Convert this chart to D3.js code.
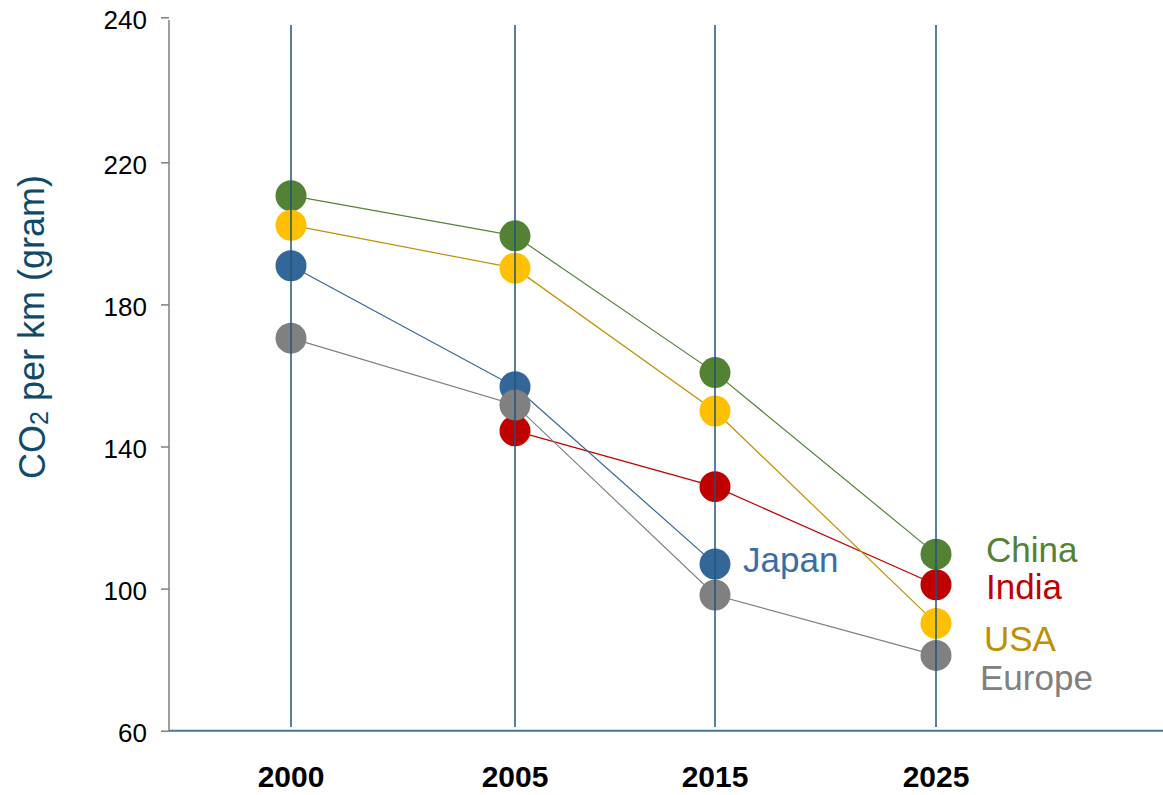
<!DOCTYPE html>
<html>

<head>
    <meta charset="utf-8">
    <title>CO2 per km</title>
    <style type="text/css">
        body { margin: 0; background: #fff; }
        svg text { font-family: "Liberation Sans", Arial, sans-serif; }
        .y-axis path { stroke: #7f7f7f; stroke-width: 1.5px; }
        .y-axis line { stroke: #7f7f7f; stroke-width: 1.5px; }
        .y-axis text { font-size: 26px; fill: #000; }
    </style>
</head>

<body>
    <svg class="chart" width="1163" height="795"></svg>
    <script type="text/javascript" src="https://cdn.jsdelivr.net/npm/d3@7/dist/d3.min.js"></script>
    <script type="text/javascript">
    var years = ['2000', '2005', '2015', '2025'];
    var yTicks = [60, 100, 140, 180, 220, 240];

    var countries = ['China', 'India', 'USA', 'Japan', 'Europe'];
    var china = [210.6, 199.3, 160.8, 109.7];
    var india = [null, 144.4, 128.7, 101.1];
    var usa = [202.3, 190.2, 150.0, 90.2];
    var japan = [190.9, 156.8, 106.9, null];
    var europe = [170.5, 151.7, 98.2, 81.2];

    var dotColors = ['#548235', '#c00000', '#ffc000', '#336699', '#808080'];
    var lineColors = ['#548235', '#c00000', '#bf9000', '#336699', '#808080'];
    var textColors = ['#548235', '#c00000', '#bf9000', '#3a6ea5', '#808080'];

    var series = [china, india, usa, japan, europe].map(function(vals, i) {
        return {
            name: countries[i],
            points: vals.map(function(v, j) { return {year: years[j], value: v}; })
        };
    });

    var svg = d3.select('.chart');

    // axis on the left is stretched near the top (220 -> 240 gets a full step)
    var y = d3.scaleLinear().domain([60, 220, 240]).range([730.7, 162.3, 17.3]);
    // year columns are not evenly spaced in the original
    var xi = d3.scaleLinear().domain([0, 1, 2, 3]).range([291, 515, 715, 936]);
    var x = function(yr) { return xi(years.indexOf(yr)); };

    // y axis
    var yAxis = svg.append('g')
        .attr('class', 'y-axis')
        .attr('transform', 'translate(169, 0)')
        .call(d3.axisLeft(y).tickValues(yTicks).tickSize(8).tickPadding(14).tickSizeOuter(0));
    yAxis.select('.domain').attr('d', 'M0,20V731');
    yAxis.selectAll('text').attr('dy', '0.42em');

    // x axis line
    svg.append('line')
        .attr('x1', 169).attr('x2', 1163)
        .attr('y1', y(60)).attr('y2', y(60))
        .attr('stroke', '#4d7594')
        .attr('stroke-width', 2);

    svg.append('g')
        .selectAll('text')
        .data(years)
        .enter()
        .append('text')
        .attr('x', function(d) { return x(d); })
        .attr('y', 787)
        .attr('text-anchor', 'middle')
        .style('font-size', '30px')
        .style('font-weight', 'bold')
        .text(function(d) { return d; });

    // y title
    var title = svg.append('text')
        .attr('transform', 'translate(45, 327) rotate(-90)')
        .attr('text-anchor', 'middle')
        .style('font-size', '36px')
        .style('fill', '#0f4a6b');
    title.append('tspan').text('CO');
    title.append('tspan').attr('dy', '0.1em').style('font-size', '25px').text('2');
    title.append('tspan').attr('dy', '-0.1em').text(' per km (gram)');

    // lines
    var line = d3.line()
        .defined(function(d) { return d.value !== null; })
        .x(function(d) { return x(d.year); })
        .y(function(d) { return y(d.value); });

    svg.append('g')
        .selectAll('path')
        .data(series)
        .enter()
        .append('path')
        .attr('d', function(d) { return line(d.points); })
        .attr('fill', 'none')
        .attr('stroke', function(d, i) { return lineColors[i]; })
        .attr('stroke-width', 1.2);

    // dots
    series.forEach(function(s, i) {
        svg.append('g')
            .selectAll('circle')
            .data(s.points.filter(function(p) { return p.value !== null; }))
            .enter()
            .append('circle')
            .attr('cx', function(d) { return x(d.year); })
            .attr('cy', function(d) { return y(d.value); })
            .attr('r', 15.5)
            .attr('fill', dotColors[i]);
    });

    // vertical year lines sit on top of the dots
    svg.append('g')
        .selectAll('line')
        .data(years)
        .enter()
        .append('line')
        .attr('x1', function(d) { return x(d); })
        .attr('x2', function(d) { return x(d); })
        .attr('y1', 25)
        .attr('y2', 727)
        .attr('stroke', '#1f5578')
        .attr('stroke-width', 1.5);

    // series labels, next to last point
    var labelDy = {China: -5, India: 2, USA: 15, Japan: -5, Europe: 22};
    var labelDx = {China: 50, India: 50, USA: 48, Japan: 28, Europe: 44};
    svg.append('g')
        .selectAll('text')
        .data(series)
        .enter()
        .append('text')
        .attr('x', function(d) {
            var last = d.points.filter(function(p) { return p.value !== null; }).pop();
            return x(last.year) + labelDx[d.name];
        })
        .attr('y', function(d) {
            var last = d.points.filter(function(p) { return p.value !== null; }).pop();
            return y(last.value) + labelDy[d.name];
        })
        .attr('dy', '0.36em')
        .style('font-size', '35px')
        .style('fill', function(d, i) { return textColors[i]; })
        .text(function(d) { return d.name; });
    </script>
</body>

</html>
